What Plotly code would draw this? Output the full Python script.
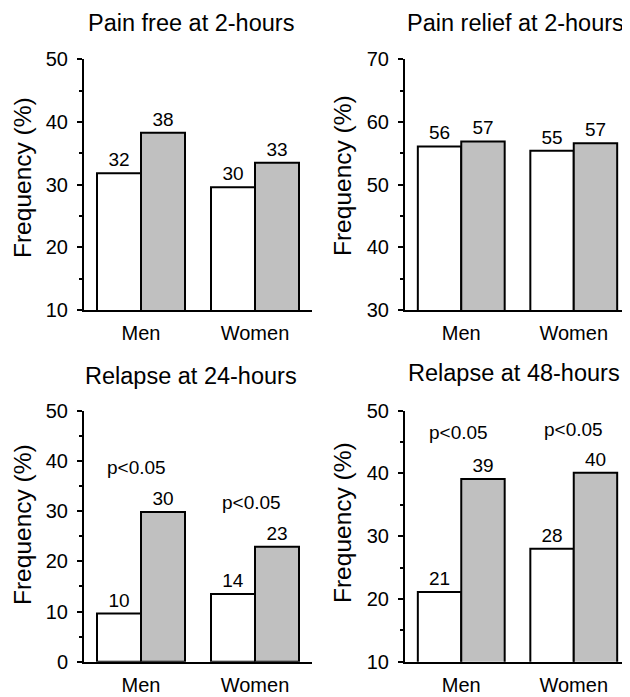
import plotly.graph_objects as go

categories = ["Men", "Women"]
titles = ["Pain free at 2-hours", "Pain relief at 2-hours", "Relapse at 24-hours", "Relapse at 48-hours"]
white_vals = [[31.8, 29.6], [56.1, 55.4], [9.6, 13.5], [21.1, 28.0]]
grey_vals = [[38.3, 33.5], [56.9, 56.6], [29.8, 22.9], [39.1, 40.1]]
white_labels = [["32", "30"], ["56", "55"], ["10", "14"], ["21", "28"]]
grey_labels = [["38", "33"], ["57", "57"], ["30", "23"], ["39", "40"]]
y_ranges = [[10, 50], [30, 70], [0, 50], [10, 50]]
y_tickvals = [[10, 20, 30, 40, 50], [30, 40, 50, 60, 70], [0, 10, 20, 30, 40, 50], [10, 20, 30, 40, 50]]
p_text = "p<0.05"
p_positions = {2: [(-0.04, 38.6), (0.97, 31.7)], 3: [(-0.02, 46.5), (1.0, 47.0)]}

# page has an 8px body margin: figure is drawn 8px smaller and all pixel positions shifted
OFF = 8
W, H = 630 - OFF, 697 - OFF
FONT = "Arial, Liberation Sans, sans-serif"

# pixel layout (in page coordinates)
x_doms = [(84, 312), (405, 630), (84, 312), (405, 630)]
y_doms = [(59.3, 310), (59.3, 310), (410.7, 661.7), (410.7, 661.7)]
title_pos = [(191, 23), (515, 23), (191, 376), (514, 373)]
ytitle_pos = [(22, 178), (342, 176), (22, 525), (342, 523)]


def px(v):
    return (v - OFF) / W


def py(v):
    return 1 - (v - OFF) / H


fig = go.Figure()
for i in range(4):
    sfx = "" if i == 0 else str(i + 1)
    xa, ya = "x" + sfx, "y" + sfx
    fig.add_trace(go.Bar(x=categories, y=white_vals[i], text=white_labels[i], xaxis=xa, yaxis=ya,
                         marker=dict(color="white", line=dict(color="black", width=2)),
                         textposition="outside", cliponaxis=False, offsetgroup="a",
                         textfont=dict(size=19, color="black", family=FONT), showlegend=False))
    fig.add_trace(go.Bar(x=categories, y=grey_vals[i], text=grey_labels[i], xaxis=xa, yaxis=ya,
                         marker=dict(color="#c0c0c0", line=dict(color="black", width=2)),
                         textposition="outside", cliponaxis=False, offsetgroup="b",
                         textfont=dict(size=19, color="black", family=FONT), showlegend=False))
    x0, x1 = x_doms[i]
    y0, y1 = y_doms[i]
    fig.layout["xaxis" + sfx] = dict(domain=[px(x0), min(px(x1), 1)], anchor=ya, showline=True, linecolor="black",
                                     linewidth=2, ticks="", range=[-0.5, 1.5], fixedrange=True, automargin=False,
                                     ticklabelstandoff=4,
                                     tickfont=dict(size=20, color="black", family=FONT), showgrid=False)
    fig.layout["yaxis" + sfx] = dict(domain=[py(y1), py(y0)], anchor=xa, range=y_ranges[i],
                                     tickvals=y_tickvals[i], showline=True, linecolor="black", linewidth=2,
                                     ticks="outside", ticklen=5, tickwidth=2, tickcolor="black", automargin=False,
                                     ticklabelstandoff=5,
                                     minor=dict(dtick=5, ticks="outside", ticklen=3, tickwidth=2, tickcolor="black", showgrid=False),
                                     showgrid=False, zeroline=False,
                                     tickfont=dict(size=20, color="black", family=FONT))
    tx, ty = title_pos[i]
    fig.add_annotation(text=titles[i], x=px(tx), y=py(ty), xref="paper", yref="paper", showarrow=False,
                       xanchor="center", yanchor="middle", font=dict(size=23.5, color="black", family=FONT))
    qx, qy = ytitle_pos[i]
    fig.add_annotation(text="Frequency (%)", x=px(qx), y=py(qy), xref="paper", yref="paper", showarrow=False,
                       textangle=-90, xanchor="center", yanchor="middle", font=dict(size=24.5, color="black", family=FONT))
    for (ax, ay) in p_positions.get(i, []):
        fig.add_annotation(text=p_text, x=ax, y=ay, xref=xa, yref=ya, showarrow=False,
                           font=dict(size=19, color="black", family=FONT))

fig.update_layout(width=W, height=H, margin=dict(l=0, r=0, t=0, b=0, autoexpand=False), barmode="group", bargap=0.228,
                  bargroupgap=0, plot_bgcolor="white", paper_bgcolor="white", template="none",
                  font=dict(family=FONT, color="black"))
fig.write_html("out.html")
